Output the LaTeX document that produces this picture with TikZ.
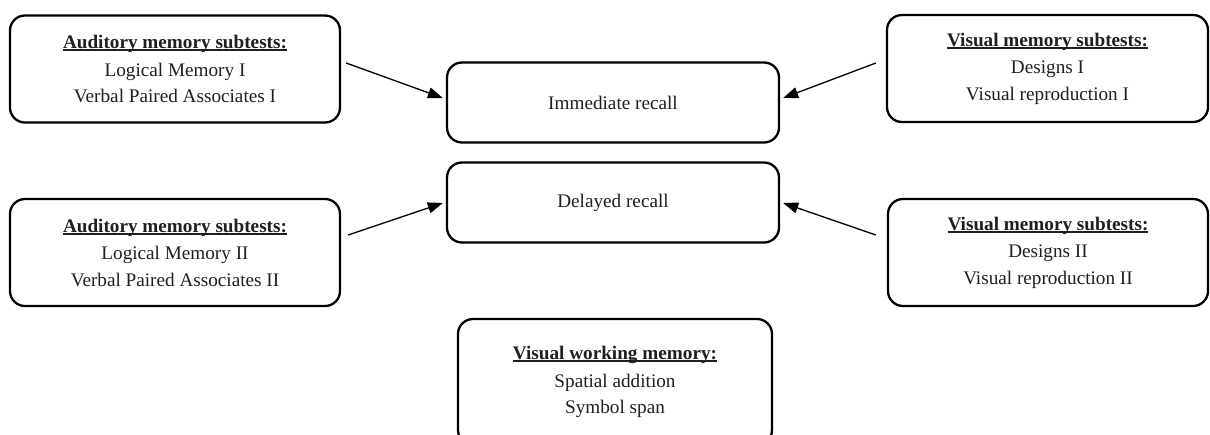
\documentclass[tikz,border=0pt]{standalone}
\usepackage{fontspec}
\setmainfont{Liberation Serif}
\usetikzlibrary{arrows.meta}
% bold heading with a heavy rule just under the baseline
\newcommand\headline[1]{\setbox0\hbox{\bfseries #1}\rlap{\rule[-2.6pt]{\wd0}{1.7pt}}\box0}
\begin{document}
\begin{tikzpicture}[x=1pt,y=-1pt,
  tbox/.style={draw=black, line width=2.3pt, rounded corners=15pt,
    inner sep=0pt, align=center, text=black!88,
    font=\fontsize{19.2}{26.5}\selectfont},
  arr/.style={line width=1.3pt, -{Triangle[length=15pt,width=11pt]}}]
\useasboundingbox (0,0) rectangle (1210,434);
\clip (0,0) rectangle (1210,434);

% source boxes, left column
\node[tbox, minimum width=330pt, minimum height=107pt] (audA) at (175,69)
  {\headline{Auditory memory subtests:}\\[1pt]Logical Memory I\\Verbal Paired Associates I};
\node[tbox, minimum width=330pt, minimum height=107pt] (audB) at (175,252.5)
  {\headline{Auditory memory subtests:}\\[1pt]Logical Memory II\\Verbal Paired Associates II};

% source boxes, right column
\node[tbox, minimum width=321pt, minimum height=107pt] (visA) at (1047.5,68.5)
  {\headline{Visual memory subtests:}\\[1pt]Designs I\\Visual reproduction I};
\node[tbox, minimum width=320pt, minimum height=107pt] (visB) at (1048,252.5)
  {\headline{Visual memory subtests:}\\[1pt]Designs II\\Visual reproduction II};

% recall boxes
\node[tbox, minimum width=332pt, minimum height=80pt] (imm) at (613,102.5) {Immediate recall};
\node[tbox, minimum width=332pt, minimum height=80pt] (del) at (613,202.5) {Delayed recall};

% working memory box, running past the lower edge
\node[tbox, minimum width=314pt, minimum height=126pt] (vwm) at (615,382)
  {\headline{Visual working memory:}\\[1pt]Spatial addition\\Symbol span};

% connectors
\draw[arr] ([xshift=5pt,yshift=6pt]audA.east) -- ([xshift=-3pt,yshift=4.5pt]imm.west);
\draw[arr] ([xshift=-10pt,yshift=5.5pt]visA.west) -- ([xshift=3pt,yshift=4.5pt]imm.east);
\draw[arr] ([xshift=7pt,yshift=17.5pt]audB.east) -- ([xshift=-3pt,yshift=-0.5pt]del.west);
\draw[arr] ([xshift=-11pt,yshift=17.5pt]visB.west) -- ([xshift=3pt,yshift=-0.5pt]del.east);
\end{tikzpicture}
\end{document}
